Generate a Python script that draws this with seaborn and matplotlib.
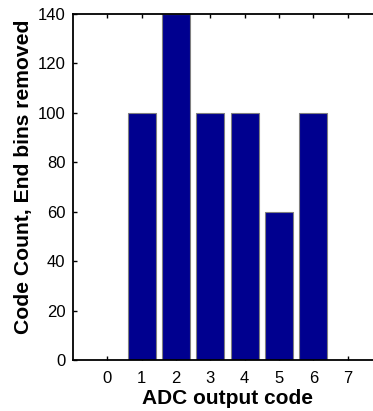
import matplotlib
matplotlib.use("Agg")
import matplotlib.pyplot as plt
import seaborn as sns
import pandas as pd

codes = [0, 1, 2, 3, 4, 5, 6, 7]
counts = [0, 100, 140, 100, 100, 60, 100, 0]
yticks = [0, 20, 40, 60, 80, 100, 120, 140]

sns.set_style("white")
plt.rcParams['font.family'] = ['Liberation Sans', 'DejaVu Sans']
plt.rcParams['text.color'] = 'black'
plt.rcParams['axes.labelcolor'] = 'black'

fig = plt.figure(figsize=(3.73, 4.11), dpi=100)
ax = fig.add_axes([73/373, 1-360/411, 309/373, 346/411])

df = pd.DataFrame({"code": codes, "count": counts})
sns.barplot(data=df, x="code", y="count", color="#00008F", saturation=1,
            width=0.82, edgecolor="#808080", linewidth=0.8, ax=ax, native_scale=True)

ax.set_xlim(-1, 8)
ax.set_ylim(0, 140)
ax.set_xticks(codes)
ax.set_xticklabels([str(c) for c in codes])
ax.set_yticks(yticks)
ax.tick_params(direction="in", length=3, width=1, labelsize=12, top=True, right=True,
               bottom=True, left=True, colors="black", labelcolor="black")
ax.tick_params(axis="y", pad=5.5)
ax.tick_params(axis="x", pad=8)
for s in ax.spines.values():
    s.set_visible(True)
    s.set_color("black")
    s.set_linewidth(1.3)
ax.set_xlabel("ADC output code", fontsize=15, fontweight="bold", labelpad=2)
ax.set_ylabel("Code Count, End bins removed", fontsize=15.2, fontweight="bold")
ax.yaxis.set_label_coords(-0.13, (360 - 177) / 346)
ax.grid(False)
fig.savefig("out.png", dpi=100)
